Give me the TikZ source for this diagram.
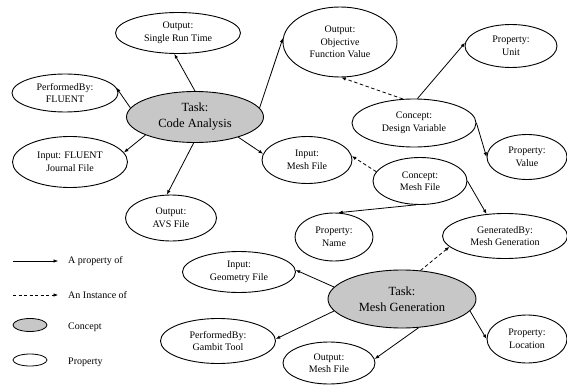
\documentclass[tikz,border=0pt]{standalone}
\usepackage{fontspec}
\setmainfont{Liberation Serif}
\usetikzlibrary{shapes.geometric,arrows.meta}
\tikzset{
  prop/.style={ellipse, draw, line width=0.9pt, inner sep=0pt, align=center, font=\fontsize{10}{12.5}\selectfont},
  concept/.style={ellipse, draw, line width=0.9pt, inner sep=0pt, align=center, fill=black!22, font=\fontsize{12.5}{16}\selectfont},
  propof/.style={line width=0.8pt, -{Latex[length=4.5pt,width=3.5pt]}},
  instof/.style={line width=0.8pt, dash pattern=on 3.5pt off 2.5pt, -{Latex[length=4.5pt,width=3.5pt]}},
  legtext/.style={anchor=west, inner sep=0pt, font=\fontsize{10}{12}\selectfont}
}
\begin{document}
\begin{tikzpicture}[x=1pt,y=-1pt]
\useasboundingbox (0,0) rectangle (567,385);
% property nodes
\node[prop, minimum width=125pt, minimum height=41pt] (srt) at (178,33) {Output:\\Single Run Time};
\node[prop, minimum width=106pt, minimum height=38pt] (pf) at (65,93) {PerformedBy:\\FLUENT};
\node[prop, minimum width=115pt, minimum height=51pt] (ifj) at (70,162) {Input: FLUENT\\Journal File};
\node[prop, minimum width=91pt, minimum height=46pt] (avs) at (171,218) {Output:\\AVS File};
\node[prop, minimum width=114pt, minimum height=70pt] (obj) at (340,42) {Output:\\Objective\\Function Value};
\node[prop, minimum width=92pt, minimum height=43pt] (unit) at (511,46) {Property:\\Unit};
\node[prop, minimum width=124pt, minimum height=48pt] (dv) at (414,123) {Concept:\\Design Variable};
\node[prop, minimum width=80pt, minimum height=45pt] (val) at (527,157) {Property:\\Value};
\node[prop, minimum width=90pt, minimum height=47pt] (imf) at (307,160) {Input:\\Mesh File};
\node[prop, minimum width=94pt, minimum height=47pt] (cmf) at (420,181) {Concept:\\Mesh File};
\node[prop, minimum width=78pt, minimum height=48pt] (name) at (334,237) {Property:\\Name};
\node[prop, minimum width=125pt, minimum height=45pt] (gb) at (505,236) {GeneratedBy:\\Mesh Generation};
\node[prop, minimum width=113pt, minimum height=41pt] (geo) at (239,272) {Input:\\Geometry File};
\node[prop, minimum width=115pt, minimum height=45pt] (gam) at (218,341) {PerformedBy:\\Gambit Tool};
\node[prop, minimum width=92pt, minimum height=42pt] (omf) at (329,363) {Output:\\Mesh File};
\node[prop, minimum width=80pt, minimum height=48pt] (loc) at (527,339) {Property:\\Location};
% concept (task) nodes
\node[concept, minimum width=137pt, minimum height=51pt] (ca) at (195,117) {Task:\\Code Analysis};
\node[concept, minimum width=148pt, minimum height=58pt] (mg) at (402,299) {Task:\\Mesh Generation};
% property-of connectors
\draw[propof] (ca.north) -- (srt.-100);
\draw[propof] (ca.172) -- (pf.6);
\draw[propof] (ca.200) -- (ifj.10);
\draw[propof] (ca.-93) -- (avs.100);
\draw[propof] (ca.8) -- (obj.176);
\draw[propof] (ca.-25) -- (imf.172);
\draw[propof] (dv.82) -- (unit.176);
\draw[propof] (dv.0) -- (val.180);
\draw[propof] (cmf.-100) -- (name.80);
\draw[propof] (cmf.0) -- (gb.130);
\draw[propof] (mg.170) -- (geo.2);
\draw[propof] (mg.190) -- (gam.2);
\draw[propof] (mg.-60) -- (omf.5);
\draw[propof] (mg.-10) -- (loc.180);
% instance-of connectors
\draw[instof] (dv.115) -- (obj.-88);
\draw[instof] (cmf.168) -- (imf.5);
\draw[instof] (mg.57) -- (gb.191);
% legend
\coordinate (l1a) at (13,261);
\coordinate (l1b) at (58,261);
\coordinate (l2a) at (13,295);
\coordinate (l2b) at (58,295);
\draw[line width=0.5pt, -{Latex[length=4.5pt,width=3.5pt]}] (l1a) -- (l1b);
\draw[line width=0.6pt, dash pattern=on 3pt off 2.5pt, -{Latex[length=4.5pt,width=3.5pt]}] (l2a) -- (l2b);
\node[legtext] (t1) at (68,261) {A property of};
\node[legtext] (t2) at (68,295) {An Instance of};
\node[ellipse, draw, line width=0.8pt, fill=black!22, minimum width=34pt, minimum height=13pt, inner sep=0pt] (lc) at (30,325) {};
\node[ellipse, draw, line width=0.8pt, minimum width=34pt, minimum height=12pt, inner sep=0pt] (lp) at (30,360) {};
\node[legtext] (t3) at (68,327) {Concept};
\node[legtext] (t4) at (68,362) {Property};
\end{tikzpicture}
\end{document}
